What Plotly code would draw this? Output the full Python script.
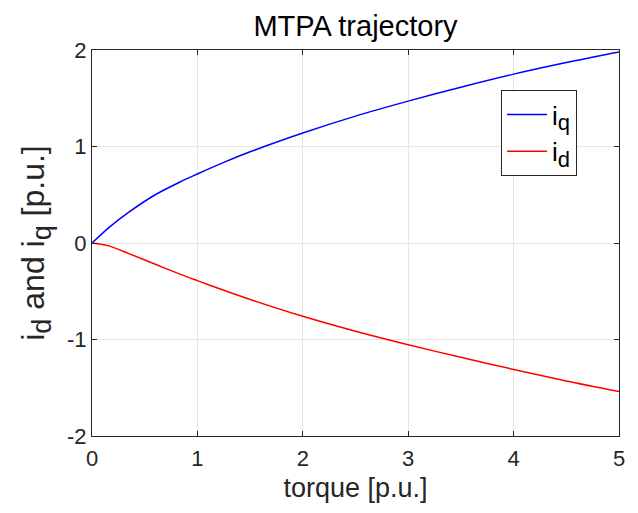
import plotly.graph_objects as go

torque = [0, 0.16, 0.35, 0.6, 0.84, 1.0, 1.25, 1.5, 2.0, 2.5, 3.0, 3.5, 4.0, 4.5, 5.0]
i_q = [0, 0.16, 0.32, 0.50, 0.635, 0.715, 0.835, 0.945, 1.14, 1.315, 1.47, 1.615, 1.75, 1.87, 1.98]
i_d = [0, -0.03, -0.11, -0.22, -0.325, -0.39, -0.49, -0.585, -0.76, -0.915, -1.055, -1.185, -1.31, -1.43, -1.54]

x_ticks = [0, 1, 2, 3, 4, 5]
y_ticks = [-2, -1, 0, 1, 2]

font = "Liberation Sans, Arial, sans-serif"
ink = "#262626"


def sub(letter, px):
    return f'<sub><span style="font-size:{px}px">{letter}</span></sub>'


fig = go.Figure()
fig.add_trace(go.Scatter(x=torque, y=i_q, mode="lines", name="i" + sub("q", 22),
                         line=dict(color="#0000ff", width=1.5, shape="spline", smoothing=0.8)))
fig.add_trace(go.Scatter(x=torque, y=i_d, mode="lines", name="i" + sub("d", 22),
                         line=dict(color="#ff0000", width=1.5, shape="spline", smoothing=0.8)))

axis_common = dict(showline=True, linecolor=ink, linewidth=1, mirror="ticks",
                   ticks="inside", ticklen=5, tickcolor=ink,
                   showgrid=True, gridcolor="#e6e6e6", gridwidth=1, zeroline=False,
                   tickfont=dict(family=font, size=22, color=ink))

fig.update_layout(
    width=630, height=505,
    margin=dict(l=84, r=19, t=42, b=77),
    paper_bgcolor="white", plot_bgcolor="white",
    title=dict(text="MTPA trajectory", xref="paper", x=0.5, xanchor="center", y=0.964, yanchor="middle",
               font=dict(family=font, size=29, color="black")),
    xaxis=dict(range=[0, 5], tickvals=x_ticks, ticktext=[str(v) for v in x_ticks],
               ticklabelstandoff=3,
               title=dict(text="torque [p.u.]", font=dict(family=font, size=27, color=ink), standoff=7),
               **axis_common),
    yaxis=dict(range=[-2, 2], tickvals=y_ticks, ticktext=[str(v) for v in y_ticks],
               title=dict(text="i" + sub("d", 27) + " and i" + sub("q", 27) + " [p.u.]",
                          font=dict(family=font, size=32, color=ink), standoff=12),
               **axis_common),
    legend=dict(x=0.776, y=0.896, xanchor="left", yanchor="top",
                bordercolor=ink, borderwidth=1, bgcolor="white",
                font=dict(family=font, size=26, color="black"),
                itemwidth=40),
    showlegend=True,
)

fig.write_html("out.html")
